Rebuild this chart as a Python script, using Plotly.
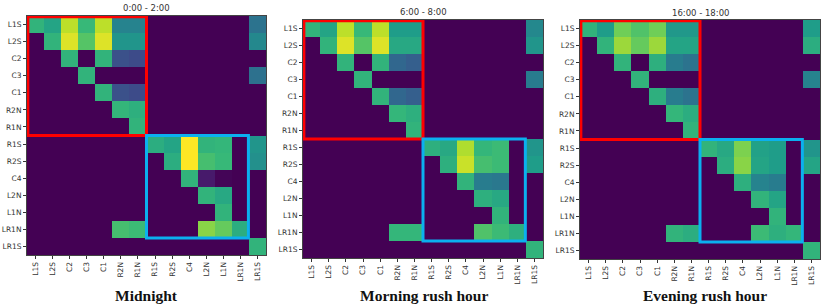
import plotly.graph_objects as go

labels = ["L1S", "L2S", "C2", "C3", "C1", "R2N", "R1N", "R1S", "R2S", "C4", "L2N", "L1N", "LR1N", "LR1S"]

panel_titles = ["0:00 - 2:00", "6:00 - 8:00", "16:00 - 18:00"]
panel_captions = ["Midnight", "Morning rush hour", "Evening rush hour"]

midnight = [
    [0.65, 0.58, 0.90, 0.67, 0.90, 0.45, 0.45, 0, 0, 0, 0, 0, 0, 0.38],
    [0, 0.65, 0.95, 0.73, 0.95, 0.52, 0.52, 0, 0, 0, 0, 0, 0, 0.47],
    [0, 0, 0.65, 0, 0.65, 0.25, 0.23, 0, 0, 0, 0, 0, 0, 0],
    [0, 0, 0, 0.65, 0, 0, 0, 0, 0, 0, 0, 0, 0, 0.37],
    [0, 0, 0, 0, 0.65, 0.25, 0.23, 0, 0, 0, 0, 0, 0, 0],
    [0, 0, 0, 0, 0, 0.66, 0.63, 0, 0, 0, 0, 0, 0, 0],
    [0, 0, 0, 0, 0, 0, 0.65, 0, 0, 0, 0, 0, 0, 0],
    [0, 0, 0, 0, 0, 0, 0, 0.62, 0.58, 1.00, 0.65, 0.66, 0, 0.52],
    [0, 0, 0, 0, 0, 0, 0, 0, 0.62, 1.00, 0.70, 0.67, 0, 0.50],
    [0, 0, 0, 0, 0, 0, 0, 0, 0, 0.65, 0.07, 0.01, 0, 0],
    [0, 0, 0, 0, 0, 0, 0, 0, 0, 0, 0.65, 0.60, 0, 0],
    [0, 0, 0, 0, 0, 0, 0, 0, 0, 0, 0, 0.65, 0, 0],
    [0, 0, 0, 0, 0, 0.70, 0.68, 0, 0, 0, 0.82, 0.76, 0.62, 0],
    [0, 0, 0, 0, 0, 0, 0, 0, 0, 0, 0, 0, 0, 0.65],
]

morning = [
    [0.65, 0.58, 0.90, 0.67, 0.90, 0.55, 0.55, 0, 0, 0, 0, 0, 0, 0.47],
    [0, 0.65, 0.95, 0.73, 0.95, 0.60, 0.60, 0, 0, 0, 0, 0, 0, 0.52],
    [0, 0, 0.65, 0, 0.65, 0.33, 0.30, 0, 0, 0, 0, 0, 0, 0],
    [0, 0, 0, 0.65, 0, 0, 0, 0, 0, 0, 0, 0, 0, 0.42],
    [0, 0, 0, 0, 0.65, 0.33, 0.30, 0, 0, 0, 0, 0, 0, 0],
    [0, 0, 0, 0, 0, 0.66, 0.63, 0, 0, 0, 0, 0, 0, 0],
    [0, 0, 0, 0, 0, 0, 0.65, 0, 0, 0, 0, 0, 0, 0],
    [0, 0, 0, 0, 0, 0, 0, 0.63, 0.60, 0.88, 0.66, 0.68, 0, 0.52],
    [0, 0, 0, 0, 0, 0, 0, 0, 0.63, 0.92, 0.70, 0.68, 0, 0.55],
    [0, 0, 0, 0, 0, 0, 0, 0, 0, 0.65, 0.42, 0.40, 0, 0],
    [0, 0, 0, 0, 0, 0, 0, 0, 0, 0, 0.63, 0.60, 0, 0],
    [0, 0, 0, 0, 0, 0, 0, 0, 0, 0, 0, 0.65, 0, 0],
    [0, 0, 0, 0, 0, 0.66, 0.66, 0, 0, 0, 0.72, 0.68, 0.63, 0],
    [0, 0, 0, 0, 0, 0, 0, 0, 0, 0, 0, 0, 0, 0.65],
]

evening = [
    [0.65, 0.55, 0.78, 0.72, 0.78, 0.53, 0.53, 0, 0, 0, 0, 0, 0, 0.55],
    [0, 0.65, 0.85, 0.76, 0.85, 0.58, 0.58, 0, 0, 0, 0, 0, 0, 0.62],
    [0, 0, 0.65, 0, 0.63, 0.42, 0.38, 0, 0, 0, 0, 0, 0, 0],
    [0, 0, 0, 0.65, 0, 0, 0, 0, 0, 0, 0, 0, 0, 0.45],
    [0, 0, 0, 0, 0.63, 0.42, 0.38, 0, 0, 0, 0, 0, 0, 0],
    [0, 0, 0, 0, 0, 0.66, 0.62, 0, 0, 0, 0, 0, 0, 0],
    [0, 0, 0, 0, 0, 0, 0.65, 0, 0, 0, 0, 0, 0, 0],
    [0, 0, 0, 0, 0, 0, 0, 0.65, 0.60, 0.80, 0.57, 0.55, 0, 0.52],
    [0, 0, 0, 0, 0, 0, 0, 0, 0.62, 0.82, 0.58, 0.55, 0, 0.58],
    [0, 0, 0, 0, 0, 0, 0, 0, 0, 0.63, 0.45, 0.42, 0, 0],
    [0, 0, 0, 0, 0, 0, 0, 0, 0, 0, 0.65, 0.58, 0, 0],
    [0, 0, 0, 0, 0, 0, 0, 0, 0, 0, 0, 0.65, 0, 0],
    [0, 0, 0, 0, 0, 0.65, 0.62, 0, 0, 0, 0.68, 0.63, 0.66, 0],
    [0, 0, 0, 0, 0, 0, 0, 0, 0, 0, 0, 0, 0, 0.65],
]

W, H = 822, 307
matrices = [midnight, morning, evening]
# pixel boxes (left, right, top, bottom)
boxes = [(27, 266, 16, 255), (303, 543, 20, 258), (580, 820, 20, 259)]
title_pos = [(146, 8), (423, 12), (700, 13)]
caption_pos = [(146, 295), (424, 295), (705, 295)]

idx = list(range(len(labels)))
fig = go.Figure()
annotations = []
shapes = []
for k, (mat, box) in enumerate(zip(matrices, boxes)):
    n = "" if k == 0 else str(k + 1)
    fig.add_trace(go.Heatmap(
        z=mat, x=idx, y=idx, colorscale="Viridis", zmin=0, zmax=1,
        showscale=False, xaxis="x" + n, yaxis="y" + n, hoverinfo="z",
    ))
    l, r, t, b = box
    axfont = dict(family="DejaVu Sans", size=7.5, color="#333")
    fig.layout["xaxis" + n] = dict(
        domain=[l / W, r / W], anchor="y" + n, range=[-0.5, 13.5],
        tickmode="array", tickvals=idx, ticktext=labels, tickangle=-90,
        ticks="outside", ticklen=3, tickcolor="#333", tickfont=axfont,
        showgrid=False, zeroline=False, showline=True, mirror=True,
        linecolor="#444", linewidth=1,
    )
    fig.layout["yaxis" + n] = dict(
        domain=[1 - b / H, 1 - t / H], anchor="x" + n, range=[13.5, -0.5],
        tickmode="array", tickvals=idx, ticktext=labels,
        ticks="outside", ticklen=3, tickcolor="#333", tickfont=axfont,
        showgrid=False, zeroline=False, showline=True, mirror=True,
        linecolor="#444", linewidth=1,
    )
    xr, yr = "x" + n, "y" + n
    shapes.append(dict(type="rect", xref=xr, yref=yr, x0=-0.45, x1=6.5, y0=-0.45, y1=6.5,
                       line=dict(color="#ff0000", width=3)))
    shapes.append(dict(type="rect", xref=xr, yref=yr, x0=6.5, x1=12.47, y0=6.5, y1=12.5,
                       line=dict(color="#0bb0ef", width=3)))
    tx, ty = title_pos[k]
    annotations.append(dict(text=panel_titles[k], x=tx / W, y=1 - ty / H, xref="paper", yref="paper",
                            showarrow=False, xanchor="center", yanchor="middle",
                            font=dict(family="DejaVu Sans", size=8.5, color="#333")))
    cx, cy = caption_pos[k]
    annotations.append(dict(text="<b>" + panel_captions[k] + "</b>", x=cx / W, y=1 - cy / H,
                            xref="paper", yref="paper", showarrow=False,
                            xanchor="center", yanchor="middle",
                            font=dict(family="Liberation Serif", size=15.5, color="#111")))

fig.update_layout(
    width=W, height=H, margin=dict(l=0, r=0, t=0, b=0),
    paper_bgcolor="white", plot_bgcolor="white",
    shapes=shapes, annotations=annotations, showlegend=False,
)
fig.write_html("out.html", config={"displayModeBar": False},
               post_script="document.body.style.margin='0px';document.body.style.overflow='hidden';")
